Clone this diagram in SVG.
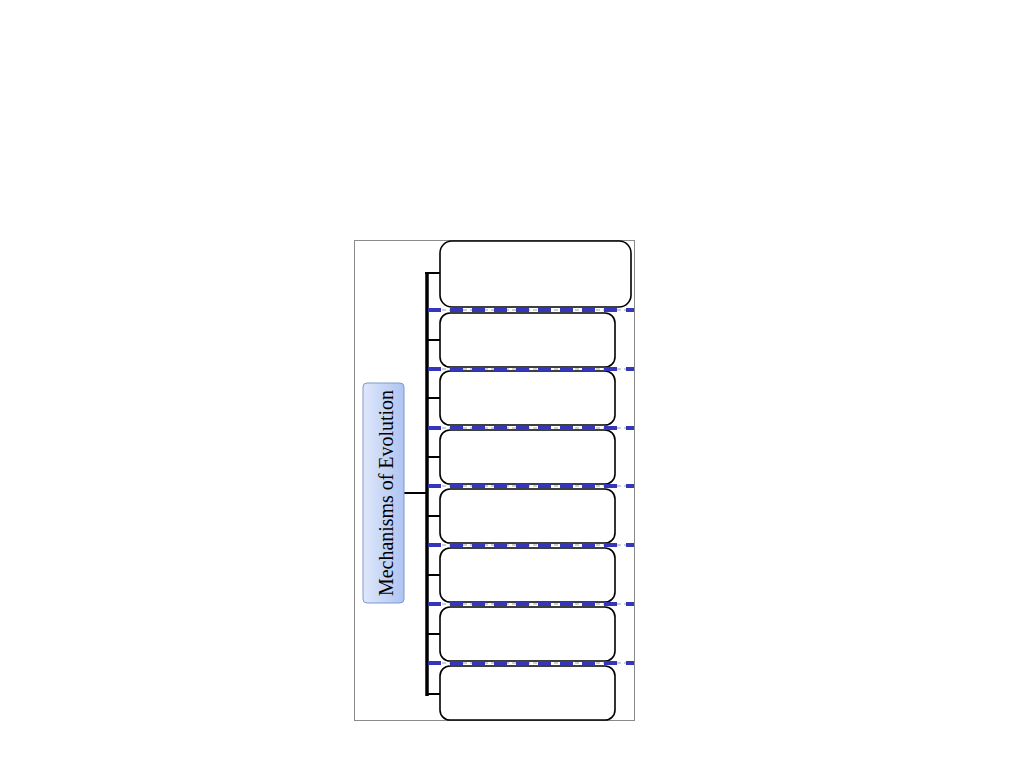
<svg xmlns="http://www.w3.org/2000/svg" width="1024" height="768" viewBox="0 0 1024 768">
<defs>
<linearGradient id="rootGrad" x1="0" y1="0" x2="1" y2="0">
<stop offset="0" stop-color="#dfe8fb"/>
<stop offset="1" stop-color="#aec4f2"/>
</linearGradient>
<style>
.box{fill:#ffffff;stroke:#000000;stroke-width:1.6}
.tick{stroke:#000000;stroke-width:2;fill:none}
.bar{stroke:#000000;stroke-width:3.5;fill:none}
.dashg{stroke:#a0a0a0;stroke-width:1.2;stroke-dasharray:4 3;fill:none}
.dashb{stroke:#3636b8;stroke-width:4;stroke-dasharray:13 9;fill:none}
.lbl{font-family:"Liberation Serif","DejaVu Serif",serif;font-size:22px;fill:#000000}
</style>
</defs>
<rect width="1024" height="768" fill="#ffffff"/>
<rect id="frame" x="354.5" y="240.5" width="280" height="480" fill="#ffffff" stroke="#8a8a8a" stroke-width="1"/>
<g id="connectors">
<line class="bar" x1="427" y1="272" x2="427" y2="696"/>
<line class="tick" x1="425" y1="273" x2="440" y2="273"/>
<line class="tick" x1="427" y1="340" x2="440" y2="340"/>
<line class="tick" x1="427" y1="398" x2="440" y2="398"/>
<line class="tick" x1="427" y1="457" x2="440" y2="457"/>
<line class="tick" x1="427" y1="516" x2="440" y2="516"/>
<line class="tick" x1="427" y1="575" x2="440" y2="575"/>
<line class="tick" x1="427" y1="634" x2="440" y2="634"/>
<line class="tick" x1="427" y1="694" x2="440" y2="694"/>
<line class="tick" x1="404" y1="493" x2="427" y2="493"/>
</g>
<g id="root">
<rect x="363" y="383" width="41" height="220" rx="4" fill="url(#rootGrad)" stroke="#7d98cf" stroke-width="1"/>
<text class="lbl" transform="translate(393,493) rotate(-90)" text-anchor="middle" textLength="206" lengthAdjust="spacingAndGlyphs">Mechanisms of Evolution</text>
</g>
<g id="node1"><rect class="box" x="440" y="241" width="191" height="66" rx="12"/></g>
<g id="node2"><rect class="box" x="440" y="313" width="175" height="54" rx="10"/></g>
<g id="node3"><rect class="box" x="440" y="371" width="175" height="54" rx="10"/></g>
<g id="node4"><rect class="box" x="440" y="430" width="175" height="54" rx="10"/></g>
<g id="node5"><rect class="box" x="440" y="489" width="175" height="54" rx="10"/></g>
<g id="node6"><rect class="box" x="440" y="548" width="175" height="54" rx="10"/></g>
<g id="node7"><rect class="box" x="440" y="607" width="175" height="54" rx="10"/></g>
<g id="node8"><rect class="box" x="440" y="666" width="175" height="54" rx="10"/></g>
<g id="dashes">
<line class="dashg" x1="428" y1="310" x2="634" y2="310"/>
<line class="dashb" x1="428" y1="310" x2="634" y2="310"/>
<line class="dashg" x1="428" y1="369" x2="634" y2="369"/>
<line class="dashb" x1="428" y1="369" x2="634" y2="369"/>
<line class="dashg" x1="428" y1="428" x2="634" y2="428"/>
<line class="dashb" x1="428" y1="428" x2="634" y2="428"/>
<line class="dashg" x1="428" y1="486" x2="634" y2="486"/>
<line class="dashb" x1="428" y1="486" x2="634" y2="486"/>
<line class="dashg" x1="428" y1="545" x2="634" y2="545"/>
<line class="dashb" x1="428" y1="545" x2="634" y2="545"/>
<line class="dashg" x1="428" y1="604" x2="634" y2="604"/>
<line class="dashb" x1="428" y1="604" x2="634" y2="604"/>
<line class="dashg" x1="428" y1="663" x2="634" y2="663"/>
<line class="dashb" x1="428" y1="663" x2="634" y2="663"/>
</g>
</svg>
